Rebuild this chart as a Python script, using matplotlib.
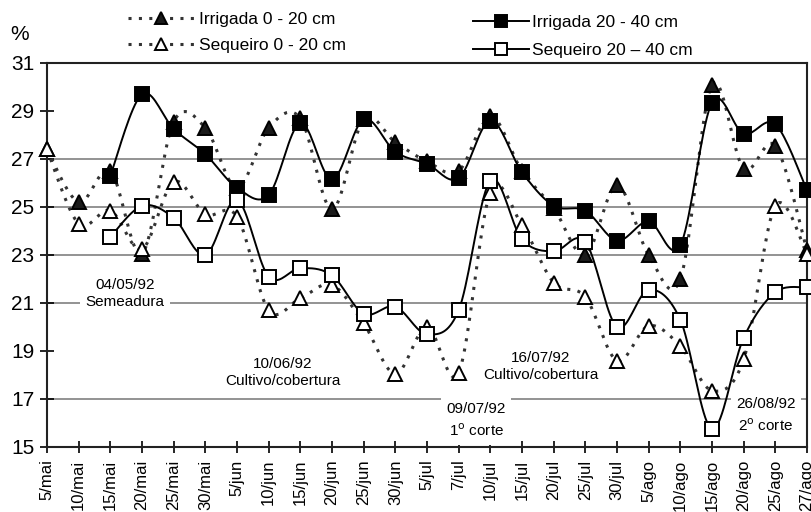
import numpy as np
import matplotlib
matplotlib.use("Agg")
import matplotlib.pyplot as plt
from matplotlib.lines import Line2D

plt.rcParams['font.family'] = ['Liberation Sans', 'DejaVu Sans']

# dates of sampling (categories, evenly spaced as in the original)
datas = ['5/mai', '10/mai', '15/mai', '20/mai', '25/mai', '30/mai',
         '5/jun', '10/jun', '15/jun', '20/jun', '25/jun', '30/jun',
         '5/jul', '7/jul', '10/jul', '15/jul', '20/jul', '25/jul', '30/jul',
         '5/ago', '10/ago', '15/ago', '20/ago', '25/ago', '27/ago']

# soil moisture, %
irrigada_0_20 = [27.4, 25.2, 26.5, 23.05, 28.55, 28.3, 25.8, 28.3, 28.7, 24.9,
                 28.65, 27.7, 26.9, 26.5, 28.8, 26.5, 24.95, 23.0, 25.9, 23.0,
                 22.0, 30.1, 26.6, 27.55, 23.2]
sequeiro_0_20 = [27.4, 24.3, 24.85, 23.25, 26.05, 24.7, 24.6, 20.7, 21.2, 21.75,
                 20.15, 18.05, 20.0, 18.1, 25.6, 24.25, 21.85, 21.25, 18.6, 20.05,
                 19.2, 17.35, 18.65, 25.05, 23.05]
irrigada_20_40 = [np.nan, np.nan, 26.3, 29.7, 28.25, 27.2, 25.8, 25.5, 28.5, 26.15,
                  28.65, 27.3, 26.8, 26.2, 28.6, 26.45, 25.05, 24.85, 23.6, 24.4,
                  23.4, 29.35, 28.05, 28.45, 25.7]
sequeiro_20_40 = [np.nan, np.nan, 23.75, 25.05, 24.55, 23.0, 25.3, 22.1, 22.45, 22.15,
                  20.55, 20.85, 19.7, 20.7, 26.1, 23.65, 23.15, 23.55, 20.0, 21.55,
                  20.3, 15.75, 19.55, 21.45, 21.65]

# management events (label, x position in categories, y)
eventos = [('04/05/92\nSemeadura', 2.46, 21.4, 1.25),
           ('10/06/92\nCultivo/cobertura', 7.45, 18.1, 1.25),
           ('16/07/92\nCultivo/cobertura', 15.6, 18.35, 1.25),
           ('09/07/92\n1$^{\\rm o}$ corte', 13.55, 16.1, 1.5),
           ('26/08/92\n2$^{\\rm o}$ corte', 22.7, 16.3, 1.5)]


def smooth(x, y, n=20):
    # bezier smoothing like the spreadsheet "smoothed line" option
    x = np.asarray(x, float)
    y = np.asarray(y, float)
    ok = ~np.isnan(y)
    pts = np.column_stack([x[ok], y[ok]])
    p = np.vstack([pts[0], pts, pts[-1]])
    t = np.linspace(0, 1, n)[:, None]
    out = []
    for k in range(1, len(p) - 2):
        p0, p1, p2, p3 = p[k - 1], p[k], p[k + 1], p[k + 2]
        b1 = p1 + (p2 - p0) / 6
        b2 = p2 - (p3 - p1) / 6
        seg = (1 - t)**3 * p1 + 3 * (1 - t)**2 * t * b1 + 3 * (1 - t) * t**2 * b2 + t**3 * p2
        out.append(seg if k == 1 else seg[1:])
    s = np.vstack(out)
    return s[:, 0], s[:, 1]


fig = plt.figure(figsize=(8.12, 5.12), dpi=100)
ax = fig.add_axes([47 / 812, 65 / 512, 760 / 812, 384 / 512])

x = np.arange(len(datas))
dot = (0, (1, 2.4))

for yy in [17, 21, 23, 25, 27]:
    ax.axhline(yy, color='#8a8a8a', lw=1.3, zorder=1)

series = [
    (irrigada_0_20, dot, '^', '#1a1a1a', 'Irrigada 0 - 20 cm'),
    (sequeiro_0_20, dot, '^', 'white', 'Sequeiro 0 - 20 cm'),
    (irrigada_20_40, '-', 's', 'black', 'Irrigada 20 - 40 cm'),
    (sequeiro_20_40, '-', 's', 'white', 'Sequeiro 20 \u2013 40 cm'),
]
handles = []
for vals, ls, mk, fc, lab in series:
    sx, sy = smooth(x, vals)
    lw = 2.2 if ls == dot else 1.4
    col = '#333333' if ls == dot else 'black'
    ax.plot(sx, sy, ls=ls, color=col, lw=lw, zorder=3, clip_on=False)
    ax.plot(x, vals, ls='none', marker=mk, ms=9.5, mfc=fc, mec='black', mew=1.4,
            zorder=4, clip_on=False)
    handles.append(Line2D([], [], ls=ls, color=col, lw=lw, marker=mk, ms=9,
                          mfc=fc, mec='black', mew=1.4, label=lab))

for txt, ex, ey, lsp in eventos:
    ax.text(ex, ey, txt, ha='center', va='center', fontsize=11, linespacing=lsp,
            bbox=dict(facecolor='white', edgecolor='none', pad=4), zorder=2)

ax.set_xlim(0, 24)
ax.set_ylim(15, 31)
ax.set_yticks(range(15, 32, 2))
ax.set_xticks(x)
ax.set_xticklabels(datas, rotation=90, fontsize=12)
ax.tick_params(axis='y', direction='inout', length=10, width=1.2, labelsize=15, pad=4)
ax.tick_params(axis='x', direction='inout', length=8, width=1.2, pad=5)
for sp in ax.spines.values():
    sp.set_linewidth(1.5)
    sp.set_color('#222222')

fig.text(20 / 812, 1 - 34 / 512, '%', fontsize=15, ha='center', va='center')

fig.legend(handles=handles[:2], loc='upper left', bbox_to_anchor=(128 / 812, 1 - 12 / 512),
           frameon=False, fontsize=12.5, handlelength=3.8, handletextpad=0.3,
           borderpad=0, borderaxespad=0, labelspacing=0.63)
fig.legend(handles=handles[2:], loc='upper left', bbox_to_anchor=(473 / 812, 1 - 15 / 512),
           frameon=False, fontsize=12.5, handlelength=3.2, handletextpad=0.2,
           borderpad=0, borderaxespad=0, labelspacing=0.72)

fig.savefig('out.png', dpi=100)
